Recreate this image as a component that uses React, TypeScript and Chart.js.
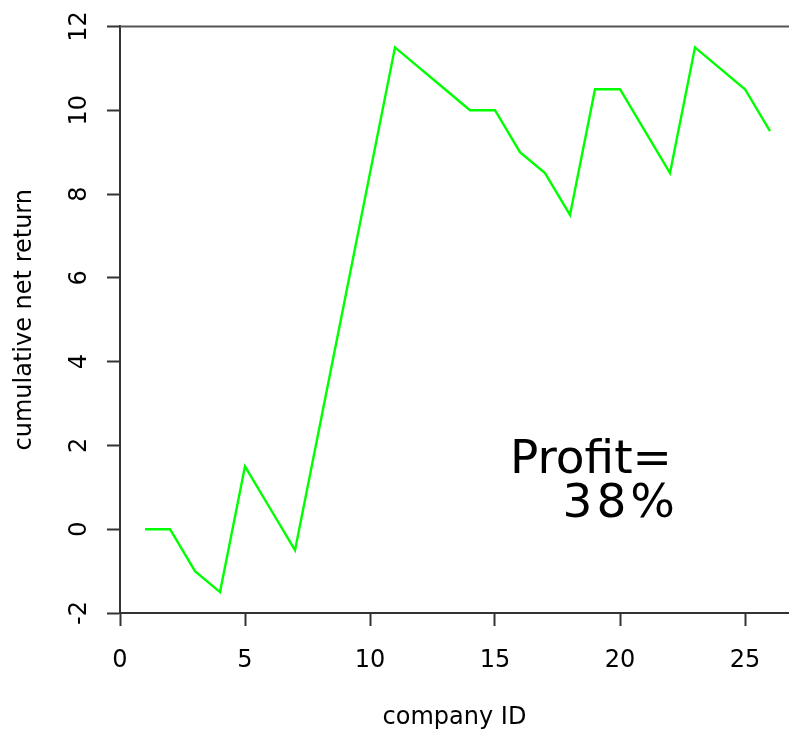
import { useEffect, useRef } from "react";
import { Chart, registerables } from "chart.js";

Chart.register(...registerables);

// Cumulative net return after each company in the portfolio
const companyIds = [
  1, 2, 3, 4, 5, 6, 7, 8, 9, 10, 11, 12, 13, 14, 15, 16, 17, 18, 19, 20, 21, 22, 23, 24, 25, 26,
];
const cumulativeReturn = [
  0, 0, -1, -1.5, 1.5, 0.5, -0.5, 2.5, 5.5, 8.5, 11.5, 11, 10.5, 10, 10, 9, 8.5, 7.5, 10.5, 10.5,
  9.5, 8.5, 11.5, 11, 10.5, 9.5,
];
const xTickValues = [0, 5, 10, 15, 20, 25];
const yTickValues = [-2, 0, 2, 4, 6, 8, 10, 12];
const profitLines = ["Profit=", "38%"];

const FONT = "'DejaVu Sans', Verdana, sans-serif";
const AXIS_COLOR = "#333";

// anchor of the profit annotation (data units, right edge / first baseline)
const PROFIT_X = 22.08;
const PROFIT_Y = 1.333;
const PROFIT_LINE_GAP = 44;
const PROFIT_LINE_SPACING = ["0px", "4px"];

const topFrame = {
  id: "topFrame",
  afterDraw(chart: any) {
    const { ctx, chartArea } = chart;
    ctx.save();
    ctx.strokeStyle = "#555";
    ctx.lineWidth = 2;
    ctx.beginPath();
    ctx.moveTo(chartArea.left, chartArea.top);
    ctx.lineTo(chartArea.right, chartArea.top);
    ctx.stroke();
    ctx.restore();
  },
};

const profitLabel = {
  id: "profitLabel",
  afterDatasetsDraw(chart: any) {
    const { ctx } = chart;
    const x = chart.scales.x;
    const y = chart.scales.y;
    const px = x.getPixelForValue(PROFIT_X);
    const py = y.getPixelForValue(PROFIT_Y);
    ctx.save();
    ctx.font = `47px ${FONT}`;
    ctx.fillStyle = "#000";
    ctx.textAlign = "right";
    ctx.textBaseline = "alphabetic";
    profitLines.forEach((line, i) => {
      const spacing = PROFIT_LINE_SPACING[i];
      ctx.letterSpacing = spacing;
      ctx.fillText(line, px + parseFloat(spacing) + (i > 0 ? 3 : 0), py + i * PROFIT_LINE_GAP);
    });
    ctx.restore();
  },
};

export default function App() {
  const canvasRef = useRef<HTMLCanvasElement | null>(null);

  useEffect(() => {
    document.body.style.margin = "0";
    const canvas = canvasRef.current;
    if (!canvas) return;

    const tickFont = { family: FONT, size: 24 };

    const chart = new Chart(canvas, {
      type: "line",
      data: {
        datasets: [
          {
            data: companyIds.map((id, i) => ({ x: id, y: cumulativeReturn[i] })),
            borderColor: "#00ff00",
            borderWidth: 2.4,
            pointRadius: 0,
            tension: 0,
            fill: false,
          },
        ],
      },
      options: {
        animation: false,
        responsive: false,
        events: [],
        layout: { padding: { top: 25, left: 0, right: 0, bottom: 0 } },
        plugins: {
          legend: { display: false },
          tooltip: { enabled: false },
        },
        scales: {
          x: {
            type: "linear",
            min: 0,
            max: 26.76,
            afterBuildTicks: (scale: any) => {
              scale.ticks = xTickValues.map((v) => ({ value: v }));
            },
            afterFit: (scale: any) => {
              scale.height = 126;
            },
            border: { display: true, color: AXIS_COLOR, width: 2 },
            grid: {
              display: true,
              drawOnChartArea: false,
              drawTicks: true,
              tickLength: 13,
              tickWidth: 2,
              tickColor: AXIS_COLOR,
            },
            ticks: {
              autoSkip: false,
              maxRotation: 0,
              minRotation: 0,
              padding: 20,
              color: "#000",
              font: tickFont,
              callback: (v: any) => String(v),
            },
            title: {
              display: true,
              text: "company ID",
              color: "#000",
              font: tickFont,
              padding: { top: 0, bottom: 7 },
            },
          },
          y: {
            type: "linear",
            min: -2,
            max: 12,
            afterBuildTicks: (scale: any) => {
              scale.ticks = yTickValues.map((v) => ({ value: v }));
            },
            afterFit: (scale: any) => {
              scale.width = 120;
            },
            border: { display: true, color: AXIS_COLOR, width: 2 },
            grid: {
              display: true,
              drawOnChartArea: false,
              drawTicks: true,
              tickLength: 13,
              tickWidth: 2,
              tickColor: AXIS_COLOR,
            },
            ticks: {
              autoSkip: false,
              minRotation: 90,
              maxRotation: 90,
              crossAlign: "center",
              padding: 12,
              color: "#000",
              font: tickFont,
              callback: (v: any) => String(v),
            },
            title: {
              display: true,
              text: "cumulative net return",
              color: "#000",
              font: tickFont,
              padding: { top: 10, bottom: 0 },
            },
          },
        },
      },
      plugins: [topFrame, profitLabel],
    } as any);

    return () => chart.destroy();
  }, []);

  return (
    <div style={{ width: 789, height: 739 }}>
      <canvas ref={canvasRef} width={789} height={739} style={{ display: "block" }} />
    </div>
  );
}
